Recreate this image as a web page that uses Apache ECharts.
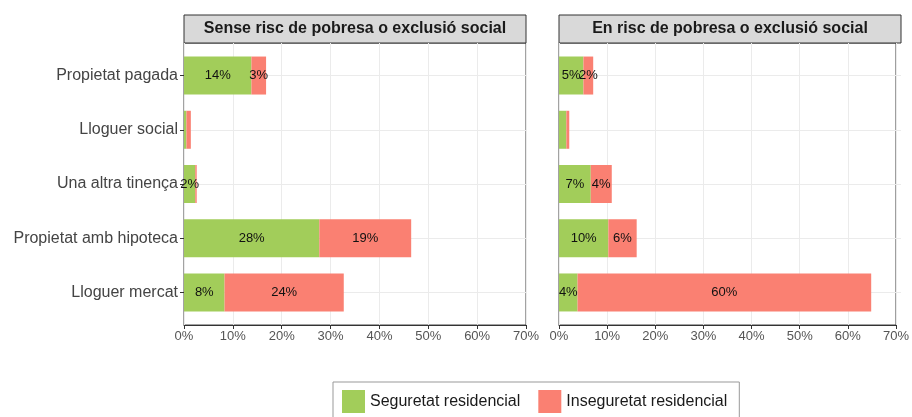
<!DOCTYPE html>
<html>
<head>
<meta charset="utf-8">
<script src="https://cdn.jsdelivr.net/npm/echarts@6/dist/echarts.min.js"></script>
<style>
  html, body { margin: 0; padding: 0; background: #fff; }
  #main { width: 912px; height: 417px; }
</style>
</head>
<body>
<div id="main"></div>
<script>
// categories, top to bottom
var categories = ["Propietat pagada", "Lloguer social", "Una altra tinença", "Propietat amb hipoteca", "Lloguer mercat"];
var panels = ["Sense risc de pobresa o exclusió social", "En risc de pobresa o exclusió social"];
var seriesNames = ["Seguretat residencial", "Inseguretat residencial"];

// Sense risc
var senseSeguretat = [13.8, 0.5, 2.3, 27.7, 8.3];
var senseInseguretat = [3.0, 0.9, 0.3, 18.8, 24.4];
// En risc
var riscSeguretat = [5.0, 1.5, 6.5, 10.1, 3.8];
var riscInseguretat = [2.0, 0.6, 4.3, 5.8, 60.1];

var xTicks = [0, 10, 20, 30, 40, 50, 60, 70];
var labelMin = 1.95;

var green = "#A2CD5A", red = "#FA8072";
var font = "Liberation Sans, Arial, Helvetica, sans-serif";

var chart = echarts.init(document.getElementById("main"));

var panelLeft = [184, 559], panelW = 342;
var bgTop = 43, bgH = 282;
var band = bgH / 5.2;

function barLabel() {
  return {
    show: true, position: "inside", color: "#111", fontSize: 13, fontFamily: font,
    formatter: function (p) { return p.value >= labelMin ? Math.round(p.value) + "%" : ""; }
  };
}

var grids = [], xAxes = [], yAxes = [], series = [], graphics = [];
panelLeft.forEach(function (left, i) {
  // background grid: border, vertical grid, x axis
  grids.push({ left: left, top: bgTop, width: panelW, height: bgH, show: true, borderColor: "#444", borderWidth: 1, backgroundColor: "#fff" });
  // bar grid: category band area
  grids.push({ left: left, top: bgTop + band * 0.1, width: panelW, height: band * 5 });

  xAxes.push({
    gridIndex: i * 2, type: "value", min: xTicks[0], max: xTicks[xTicks.length - 1], interval: 10,
    axisLine: { show: true, lineStyle: { color: "#333" } },
    axisTick: { show: true, length: 4, lineStyle: { color: "#333" } },
    axisLabel: { color: "#555", fontSize: 13, fontFamily: font, margin: 5, formatter: "{value}%" },
    splitLine: { show: true, lineStyle: { color: "#ebebeb", width: 1 } }
  });
  xAxes.push({ gridIndex: i * 2 + 1, type: "value", min: 0, max: 70, show: false });

  yAxes.push({ gridIndex: i * 2, type: "value", min: 0, max: 1, show: false });
  yAxes.push({
    gridIndex: i * 2 + 1, type: "category", inverse: true, data: categories,
    axisLine: { show: false },
    axisTick: { show: i === 0, length: 4, alignWithLabel: true, lineStyle: { color: "#333" } },
    axisLabel: { show: i === 0, color: "#444", fontSize: 16, fontFamily: font, margin: 6 },
    splitLine: { show: true, alignWithLabel: true, lineStyle: { color: "#ebebeb", width: 1 } }
  });

  var vals = i === 0 ? [senseSeguretat, senseInseguretat] : [riscSeguretat, riscInseguretat];
  [green, red].forEach(function (c, k) {
    series.push({
      name: seriesNames[k], type: "bar", stack: "p" + i,
      xAxisIndex: i * 2 + 1, yAxisIndex: i * 2 + 1,
      barWidth: 38, data: vals[k],
      itemStyle: { color: c },
      label: barLabel()
    });
  });

  // facet strip
  graphics.push({
    type: "rect", shape: { x: left, y: 15, width: panelW, height: bgTop - 15 },
    style: { fill: "#d9d9d9", stroke: "#333", lineWidth: 1 }
  });
  graphics.push({
    type: "text", x: left + panelW / 2, y: (15 + bgTop) / 2,
    style: { text: panels[i], fill: "#1a1a1a", font: "bold 16px " + font, textAlign: "center", textVerticalAlign: "middle" }
  });
});

chart.setOption({
  animation: false,
  grid: grids,
  xAxis: xAxes,
  yAxis: yAxes,
  series: series,
  graphic: graphics,
  legend: {
    data: seriesNames.map(function (n) { return { name: n, icon: "rect" }; }),
    left: 333, top: 382,
    padding: [8, 12, 14, 9],
    itemWidth: 23, itemHeight: 23, itemGap: 18,
    borderColor: "#999", borderWidth: 1,
    textStyle: { color: "#1a1a1a", fontSize: 16, fontFamily: font }
  }
});
</script>
</body>
</html>
